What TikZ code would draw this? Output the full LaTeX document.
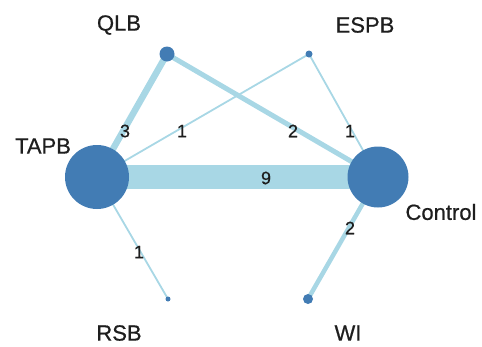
\documentclass[tikz,border=0pt]{standalone}
\usepackage{fontspec}
\setmainfont{Liberation Sans}
\newfontfamily\heavysans[FakeBold=0.6]{Liberation Sans}
\definecolor{nodeblue}{RGB}{66,124,180}
\definecolor{edgeblue}{RGB}{168,215,229}
\definecolor{labelgray}{RGB}{30,30,30}
\begin{document}
\begin{tikzpicture}[x=1pt,y=-1pt,
  treat/.style={circle,fill=nodeblue,inner sep=0pt,minimum size=#1},
  tname/.style={text=labelgray,font=\heavysans\fontsize{22}{26}\selectfont,inner sep=0pt},
  link/.style={draw=edgeblue,line width=#1},
  count/.style={text=labelgray,font=\heavysans\fontsize{18}{22}\selectfont,inner sep=0pt}]
\useasboundingbox (0,0) rectangle (482,346);
% treatment positions
\coordinate (TAPB) at (97,177);
\coordinate (Control) at (378,177);
\coordinate (QLB) at (167,54);
\coordinate (ESPB) at (309,54);
\coordinate (RSB) at (168,299);
\coordinate (WI) at (308,299);
% comparisons (width proportional to number of trials)
\draw[link=24pt] (TAPB) -- (Control);
\draw[link=6.5pt] (TAPB) -- (QLB);
\draw[link=5pt] (QLB) -- (Control);
\draw[link=1.8pt] (TAPB) -- (ESPB);
\draw[link=1.8pt] (ESPB) -- (Control);
\draw[link=1.8pt] (TAPB) -- (RSB);
\draw[link=4.5pt] (WI) -- (Control);
% treatment nodes (size proportional to sample)
\node[treat=64pt] (nTAPB) at (TAPB) {};
\node[treat=61pt] (nControl) at (Control) {};
\node[treat=15pt] (nQLB) at (QLB) {};
\node[treat=7pt] (nESPB) at (ESPB) {};
\node[treat=5pt] (nRSB) at (RSB) {};
\node[treat=10pt] (nWI) at (WI) {};
% treatment names
\node[tname] (lQLB) at (119,25) {QLB};
\node[tname] (lESPB) at (365,25) {ESPB};
\node[tname] (lTAPB) at (43,146) {TAPB};
\node[tname] (lControl) at (441,212) {Control};
\node[tname] (lRSB) at (119,333) {RSB};
\node[tname] (lWI) at (348,333) {WI};
% numbers of trials
\node[count] (c1) at (125,131) {3};
\node[count] (c2) at (182,131) {1};
\node[count] (c3) at (293,131) {2};
\node[count] (c4) at (350,131) {1};
\node[count] (c5) at (266,178) {9};
\node[count] (c6) at (139,252) {1};
\node[count] (c7) at (350,228) {2};
\end{tikzpicture}
\end{document}
